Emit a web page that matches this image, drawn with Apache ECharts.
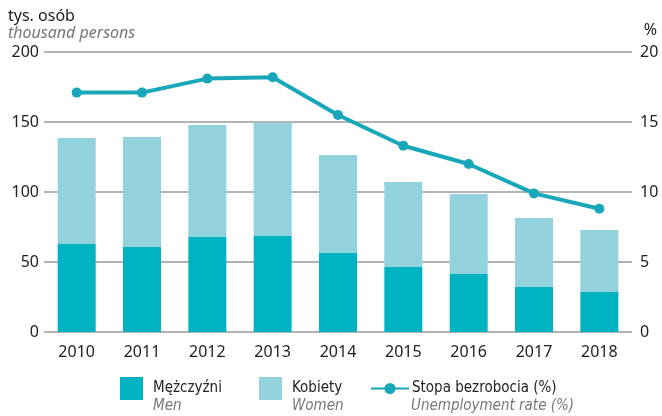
<!DOCTYPE html>
<html>
<head>
<meta charset="utf-8">
<script src="https://cdn.jsdelivr.net/npm/echarts@6/dist/echarts.min.js"></script>
<style>
    html, body {margin: 0; padding: 0; background: #fff;}
    #ET1 {width: 662px; height: 416px;}
</style>
</head>
<body>
<div id="ET1"></div>
<script>
var years = ['2010', '2011', '2012', '2013', '2014', '2015', '2016', '2017', '2018'];
var men = [62.9, 60.7, 67.9, 68.6, 56.4, 46.4, 41.4, 32.1, 28.6];
var women = [75.7, 78.6, 80.0, 80.9, 70.0, 60.7, 57.2, 49.3, 44.3];
var rate = [17.1, 17.1, 18.1, 18.2, 15.5, 13.3, 12.0, 9.9, 8.8];

~function () {
    var myChart = echarts.init(ET1);
    var font = 'Noto Sans';
    var narrow = '"DejaVu Sans Condensed", "Noto Sans"';
    var option = {
        animation: false,
        grid: {left: 44, right: 30, top: 52, bottom: 84},
        legend: [
            {
                left: 120, top: 377, padding: 0,
                itemWidth: 23, itemHeight: 23,
                data: [{name: 'Mężczyźni', icon: 'rect'}],
                textStyle: {fontFamily: narrow, fontSize: 15, color: '#222', padding: [0, 0, 0, 5]}
            },
            {
                left: 259, top: 377, padding: 0,
                itemWidth: 23, itemHeight: 23,
                data: [{name: 'Kobiety', icon: 'rect'}],
                textStyle: {fontFamily: narrow, fontSize: 15, color: '#222', padding: [0, 0, 0, 5]}
            },
            {
                left: 370, top: 381, padding: 0,
                itemWidth: 38, itemHeight: 14,
                data: ['Stopa bezrobocia (%)'],
                textStyle: {fontFamily: narrow, fontSize: 15, color: '#222', padding: [0, 0, 0, -2]}
            }
        ],
        graphic: [
            {type: 'text', left: 8, top: 8, style: {text: 'tys. osób', font: '16px ' + font, fill: '#222'}},
            {type: 'text', left: 8, top: 25, style: {text: 'thousand persons', font: 'italic 16px ' + font, fill: '#777'}},
            {type: 'text', right: 5, top: 22, style: {text: '%', font: '16px ' + font, fill: '#222'}},
            {type: 'text', left: 153, top: 399, style: {text: 'Men', font: 'italic 15px ' + narrow, fill: '#777'}},
            {type: 'text', left: 292, top: 399, style: {text: 'Women', font: 'italic 15px ' + narrow, fill: '#777'}},
            {type: 'text', left: 411, top: 399, style: {text: 'Unemployment rate (%)', font: 'italic 15px ' + narrow, fill: '#777'}}
        ],
        xAxis: [
            {
                type: 'category',
                data: years,
                axisLine: {show: false},
                axisTick: {show: false},
                axisLabel: {fontFamily: font, fontSize: 16, color: '#222', margin: 12}
            }
        ],
        yAxis: [
            {
                type: 'value',
                min: 0, max: 200, interval: 50,
                axisLine: {show: false},
                axisTick: {show: false},
                axisLabel: {fontFamily: font, fontSize: 16, color: '#222', margin: 5},
                splitLine: {lineStyle: {color: '#9a9a9a', width: 1.5}}
            },
            {
                type: 'value',
                min: 0, max: 20, interval: 5,
                axisLine: {show: false},
                axisTick: {show: false},
                axisLabel: {fontFamily: font, fontSize: 16, color: '#222', margin: 8},
                splitLine: {show: false}
            }
        ],
        series: [
            {
                name: 'Mężczyźni',
                type: 'bar',
                stack: 'total',
                barWidth: 38,
                itemStyle: {color: '#00b3c3'},
                data: men
            },
            {
                name: 'Kobiety',
                type: 'bar',
                stack: 'total',
                barWidth: 38,
                itemStyle: {color: '#91d2dc'},
                data: women
            },
            {
                name: 'Stopa bezrobocia (%)',
                type: 'line',
                yAxisIndex: 1,
                symbol: 'circle',
                symbolSize: 10,
                lineStyle: {color: '#17a7b9', width: 4},
                itemStyle: {color: '#17a7b9'},
                data: rate
            }
        ]
    };
    myChart.setOption(option);
}();
</script>
</body>
</html>
